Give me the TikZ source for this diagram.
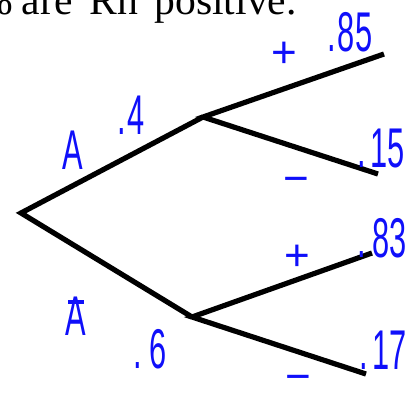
\documentclass[tikz,border=0pt]{standalone}
\usepackage{fontspec}
\usepackage{graphicx}
\setmainfont{Liberation Serif}
\newfontfamily\handfont{Liberation Sans}
\usetikzlibrary{positioning}
\definecolor{InkBlue}{RGB}{15,15,250}
\newcommand{\hand}[1]{\scalebox{0.55}[1]{#1}}
\newcommand{\barA}{A\llap{\rule[0.56em]{0.52em}{0.07em}\hspace{0.06em}}}
\tikzset{
  branch/.style={line width=5.2pt, black},
  problabel/.style={text=InkBlue, inner sep=0pt, font=\handfont\fontsize{56}{56}\selectfont},
  signlabel/.style={text=InkBlue, inner sep=0pt, font=\handfont\fontsize{44}{44}\selectfont},
  headtext/.style={anchor=base east, inner sep=0pt, font=\fontsize{41.6}{42}\selectfont},
}

\begin{document}
\begin{tikzpicture}[x=1pt, y=-1pt]
      \useasboundingbox (0,0) rectangle (413,392);
      \clip (0,0) rectangle (413,392);

      % heading, cut off at the top
      \node[headtext] (pct) at (13,14) {\%};
      \node[headtext] (heading) at (297,14) {\spaceskip=16.7pt are Rh positive.};

      % tree
      \coordinate (root) at (21,213);
      \coordinate (nA) at (203,117);
      \coordinate (nNotA) at (192,317);
      \coordinate (lApos) at (384,54);
      \coordinate (lAneg) at (378,174);
      \coordinate (lNApos) at (372,253);
      \coordinate (lNAneg) at (366,374);

      \draw[branch] (nA) -- (root) -- (nNotA);
      \draw[branch] (lApos) -- (nA) -- (lAneg);
      \draw[branch] (lNApos) -- (nNotA) -- (lNAneg);

      % labels
      \node[problabel] (tA) at (73,150) {\hand{A}};
      \node[problabel] (pA) at (131,115) {\hand{.\kern0.05em 4}};
      \node[problabel] (tNotA) at (76,316) {\hand{\barA}};
      \node[problabel] (pNotA) at (150,349) {\hand{.\kern0.25em 6}};

      \node[signlabel] (sApos) at (284,55) {+};
      \node[problabel] (pApos) at (350,32) {\hand{.\kern0.05em 85}};
      \node[signlabel] (sAneg) at (296,185) {−};
      \node[problabel] (pAneg) at (381,149) {\hand{.\kern0.15em 15}};

      \node[signlabel] (sNApos) at (297,258) {+};
      \node[problabel] (pNApos) at (382,238) {\hand{.\kern0.2em 83}};
      \node[signlabel] (sNAneg) at (298,383) {−};
      \node[problabel] (pNAneg) at (383,350) {\hand{.\kern0.15em 17}};
    \end{tikzpicture}
\end{document}
